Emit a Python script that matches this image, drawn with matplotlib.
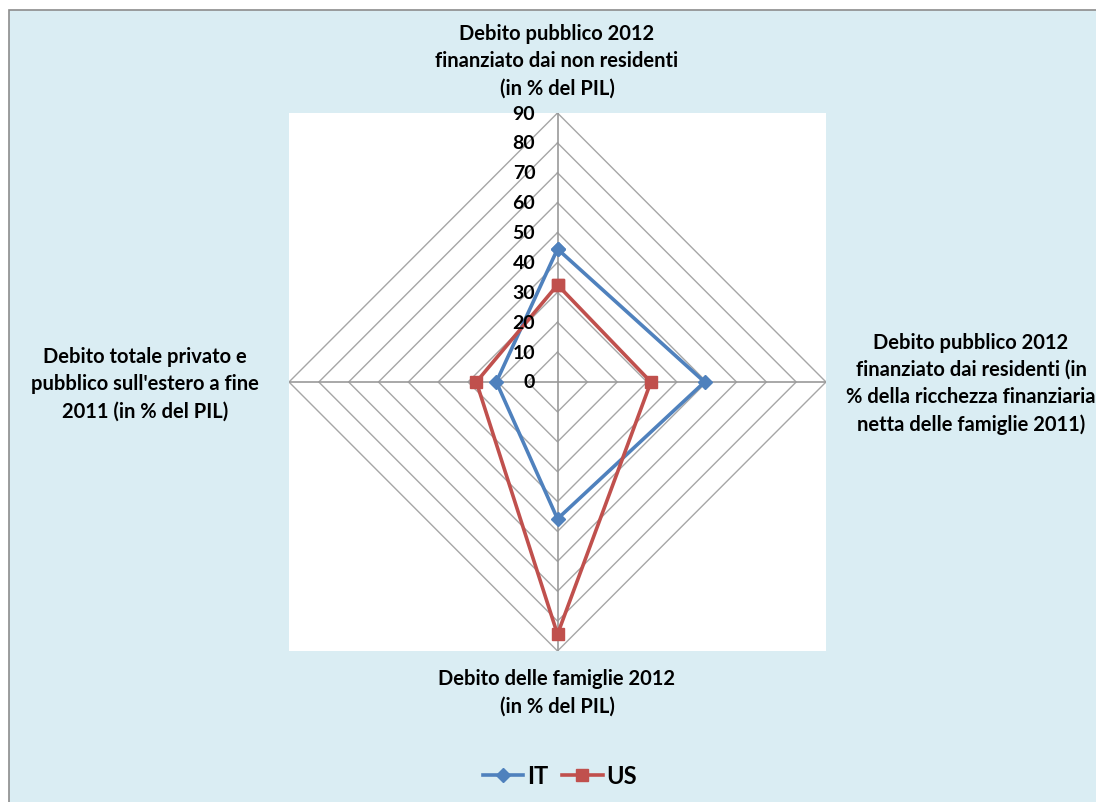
import numpy as np
import matplotlib.pyplot as plt
from matplotlib.patches import Rectangle

# ==================================================
# Data
# ==================================================
categories = [
    "Debito pubblico 2012\nfinanziato dai non residenti\n(in % del PIL)",
    "Debito pubblico 2012\nfinanziato dai residenti (in\n% della ricchezza finanziaria\nnetta delle famiglie 2011)",
    "Debito delle famiglie 2012\n(in % del PIL)",
    "Debito totale privato e\npubblico sull'estero a fine\n2011 (in % del PIL)",
]
it_values = [44.5, 49.3, 45.8, 20.5]
us_values = [32.5, 31.3, 84.4, 27.2]
grid_levels = [10, 20, 30, 40, 50, 60, 70, 80, 90]
tick_labels = ["0", "10", "20", "30", "40", "50", "60", "70", "80", "90"]

IT_COLOR = "#4F81BD"
US_COLOR = "#C0504D"
GRID_COLOR = "#A6A6A6"
BG_COLOR = "#DAEDF3"
FONT = ["Lato", "DejaVu Sans"]

# angles: top, right, bottom, left (clockwise from top)
angles = np.pi / 2 - np.arange(len(categories)) * 2 * np.pi / len(categories)


def to_xy(values):
    v = np.array(list(values) + [values[0]])
    a = np.array(list(angles) + [angles[0]])
    return v * np.cos(a), v * np.sin(a)


# ==================================================
# Figure
# ==================================================
fig = plt.figure(figsize=(10.96, 8.03), dpi=100)
fig.patch.set_facecolor("white")
fig.patches.append(Rectangle((9 / 1096, -0.1), 1.2, 1.1 - 11 / 803, transform=fig.transFigure,
                             facecolor=BG_COLOR, edgecolor="#8C8C8C", linewidth=1.2, zorder=0))

ax = fig.add_axes([289 / 1096, (803 - 652) / 803, 537 / 1096, 538 / 803])
ax.set_zorder(2)
ax.set_facecolor("white")
ax.set_xlim(-90, 90)
ax.set_ylim(-90, 90)
for s in ax.spines.values():
    s.set_visible(False)
ax.set_xticks([])
ax.set_yticks([])

# grid polygons
for r in grid_levels:
    gx, gy = to_xy([r] * len(categories))
    ax.plot(gx, gy, color=GRID_COLOR, lw=1, zorder=1)
# spokes
for a in angles:
    ax.plot([0, 90 * np.cos(a)], [0, 90 * np.sin(a)], color="#999999", lw=1.2, zorder=1)

# series
x, y = to_xy(it_values)
ax.plot(x, y, color=IT_COLOR, lw=2.6, marker="D", markersize=7, zorder=3, label="IT")
x, y = to_xy(us_values)
ax.plot(x, y, color=US_COLOR, lw=2.6, marker="s", markersize=8, zorder=3, label="US")

# radial tick labels
for i, t in enumerate(tick_labels):
    ax.annotate(t, (0, i * 10), xytext=(-16, 0), textcoords="offset points",
                ha="right", va="center", fontsize=14, fontweight="bold",
                family=FONT, zorder=4)

# category labels
label_kw = dict(ha="center", va="center", fontsize=14.5, fontweight="bold",
                family=FONT, linespacing=1.45)
fig.text(557 / 1096, 1 - 61 / 803, categories[0], **label_kw)
fig.text(971 / 1096, 1 - 384 / 803, categories[1], **label_kw)
fig.text(557 / 1096, 1 - 693 / 803, categories[2], **label_kw)
fig.text(145 / 1096, 1 - 384 / 803, categories[3], **label_kw)

leg = fig.legend(loc="center", bbox_to_anchor=(560 / 1096, 1 - 777 / 803), ncol=2,
                 frameon=False, handlelength=1.7, columnspacing=0.6, handletextpad=0.15,
                 prop={"family": FONT, "weight": "bold", "size": 17})

fig.savefig("out.png", dpi=100)
